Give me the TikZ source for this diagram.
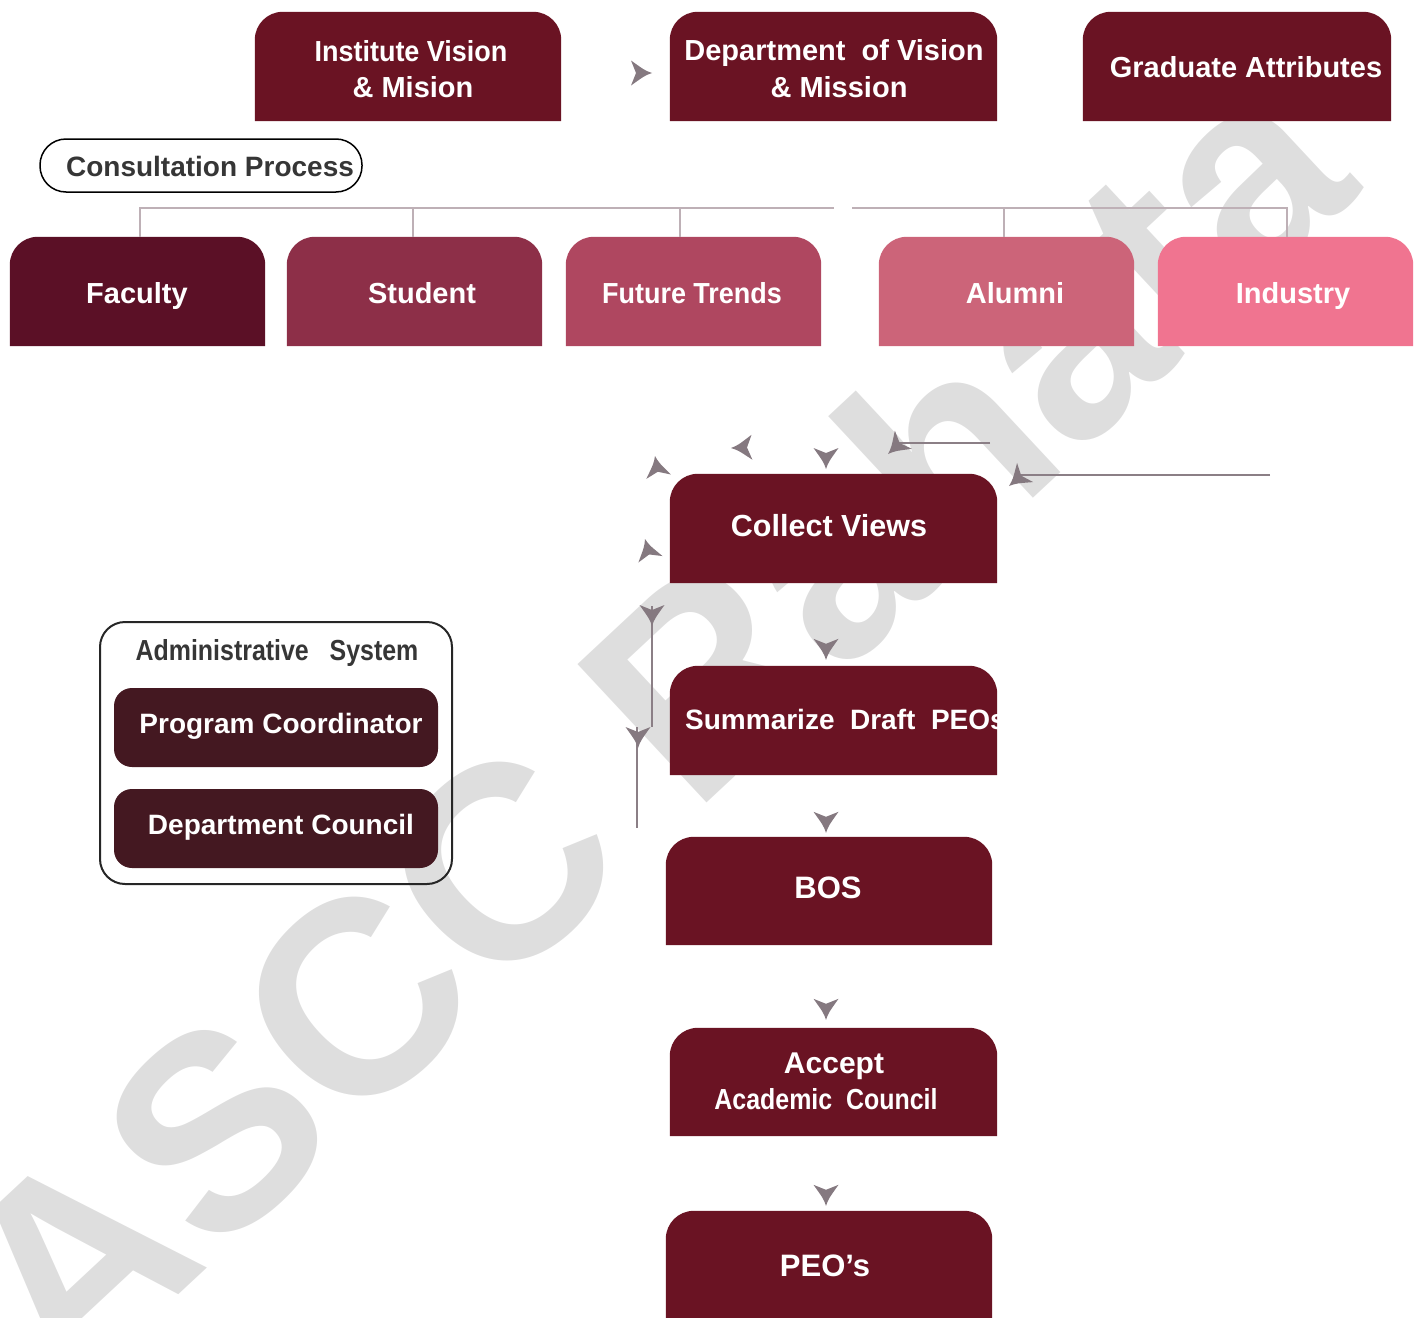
\documentclass[tikz,border=0pt]{standalone}
\usepackage{fontspec}
\setmainfont{Liberation Sans}
\newfontfamily\narrowf{Liberation Sans}[FakeStretch=0.86]
\newfontfamily\semif{Liberation Sans}[FakeStretch=0.93]
\definecolor{maroon}{HTML}{6A1323}
\definecolor{cfac}{HTML}{5B1026}
\definecolor{cstu}{HTML}{8D2F48}
\definecolor{cfut}{HTML}{AF4760}
\definecolor{calu}{HTML}{CC6479}
\definecolor{cind}{HTML}{F07490}
\definecolor{cadm}{HTML}{441821}
\definecolor{tipc}{HTML}{857980}
\definecolor{linec}{HTML}{8B7F86}
\definecolor{treec}{HTML}{BEB0B6}
\definecolor{wmc}{HTML}{DEDEDE}
\definecolor{darkt}{HTML}{363636}
\newcommand\boxat[6]{%
  \node[inner sep=0pt, minimum width={#4-#2}, minimum height={#5-#3}] (#1) at ({(#2+#4)/2},{(#3+#5)/2}) {};
  \fill[#6] (#1.south west) [rounded corners=28pt] -- (#1.north west) -- (#1.north east) [sharp corners] -- (#1.south east) -- cycle;
}
\tikzset{
  lbl/.style={text=white, inner sep=0pt, anchor=base, font=\fontsize{29}{36}\selectfont\bfseries},
  nlbl/.style={lbl, font=\narrowf\fontsize{29}{36}\selectfont\bfseries},
  slbl/.style={lbl, font=\semif\fontsize{29}{36}\selectfont\bfseries},
  tree/.style={draw=treec, line width=2.4pt},
  conn/.style={draw=linec, line width=2.2pt},
  arrtip/.pic={\fill[tipc] (0pt,0pt) .. controls (-7pt,2.5pt) .. (-21pt,12.5pt) -- (-16pt,0pt) -- (-21pt,-12.5pt) .. controls (-7pt,-2.5pt) .. (0pt,0pt) -- cycle;}
}
\begin{document}
\begin{tikzpicture}[x=1pt,y=-1pt]
\useasboundingbox (0,0) rectangle (1423,1317);
% watermark
\node[rotate=43, text=wmc, inner sep=0pt, font=\fontsize{275}{285}\selectfont\bfseries] (wm) at (649,722) {ASCC Rahata};

% top row
\boxat{inst}{255}{12}{561}{121}{maroon}
\boxat{dept}{670}{12}{997}{121}{maroon}
\boxat{grad}{1083}{12}{1391}{121}{maroon}
\node[slbl] (instT1) at (411,61) {Institute Vision};
\node[lbl] (instT2) at (413,97) {\& Mision};
\node[lbl] (deptT1) at (834,60) {Department~~of Vision};
\node[lbl] (deptT2) at (839,97) {\& Mission};
\node[lbl] (gradT) at (1246,77) {Graduate Attributes};
\pic at (652,73) {arrtip};

% consultation
\node[draw=black, line width=1.5pt, fill=white, rounded corners=26pt, minimum width=322pt, minimum height=53pt, inner sep=0pt] (cons) at (201,165.5) {};
\node[lbl, text=darkt, font=\fontsize{28}{36}\selectfont\bfseries] (consT) at (210,176) {Consultation Process};

% second row
\boxat{fac}{10}{237}{265}{346}{cfac}
\boxat{stu}{287}{237}{542}{346}{cstu}
\boxat{fut}{566}{237}{821}{346}{cfut}
\boxat{alu}{879}{237}{1134}{346}{calu}
\boxat{ind}{1158}{237}{1413}{346}{cind}
\node[lbl] (facT) at (137,303) {Faculty};
\node[lbl] (stuT) at (422,303) {Student};
\node[slbl] (futT) at (692,303) {Future Trends};
\node[lbl] (aluT) at (1015,303) {Alumni};
\node[lbl] (indT) at (1293,303) {Industry};

% tree lines
\coordinate (jl) at (834,208);
\coordinate (jr) at (852,208);
\draw[tree] ([xshift=2.5pt]fac.north) |- (jl);
\draw[tree] ([xshift=-1.5pt]stu.north) -- ([xshift=-1.5pt]stu.north |- jl);
\draw[tree] ([xshift=-13.5pt]fut.north) -- ([xshift=-13.5pt]fut.north |- jl);
\draw[tree] ([xshift=1.5pt]ind.north) |- (jr);
\draw[tree] ([xshift=-2.5pt]alu.north) -- ([xshift=-2.5pt]alu.north |- jr);

% centre column
\boxat{coll}{670}{474}{997}{583}{maroon}
\boxat{summ}{670}{666}{997}{775}{maroon}
\boxat{bos}{666}{837}{992}{945}{maroon}
\boxat{acc}{670}{1028}{997}{1136}{maroon}
\boxat{peo}{666}{1211}{992}{1330}{maroon}
\node[lbl, font=\fontsize{30.5}{36}\selectfont\bfseries] (collT) at (829,536) {Collect Views};
\begin{scope}
\clip (summ.south west) rectangle (summ.north east);
\node[lbl, anchor=base west, font=\fontsize{28}{36}\selectfont\bfseries] (summT) at (685,729) {Summarize~~Draft~~PEOs};
\end{scope}
\node[lbl, font=\fontsize{31}{36}\selectfont\bfseries] (bosT) at (828,898) {BOS};
\node[lbl, font=\fontsize{30}{36}\selectfont\bfseries] (accT1) at (834,1073) {Accept};
\node[nlbl] (accT2) at (826,1109) {Academic~~Council};
\node[lbl, font=\fontsize{31}{36}\selectfont\bfseries] (peoT) at (825,1276) {PEO’s};

% arrow tips around collect views
\pic[rotate=100] at (655,456) {arrtip};
\pic[rotate=182] at (731,448) {arrtip};
\pic[rotate=270] at (826,469) {arrtip};
\pic[rotate=105] at (645,539) {arrtip};
\coordinate (l1a) at (990,443);
\coordinate (l1b) at (897,443);
\coordinate (l2a) at (1270,475);
\coordinate (l2b) at (1020,475);
\draw[conn] (l1a) -- (l1b);
\draw[conn] (l2a) -- (l2b);
\pic[rotate=223] at (888,454) {arrtip};
\pic[rotate=220] at (1009,486) {arrtip};

% vertical lines at left
\coordinate (v1a) at (652,606);
\coordinate (v1b) at (652,727);
\coordinate (v2a) at (637,727);
\coordinate (v2b) at (637,828);
\draw[conn] (v1a) -- (v1b);
\draw[conn] (v2a) -- (v2b);
\pic[rotate=270] at (652,626) {arrtip};
\pic[rotate=270] at (638,748) {arrtip};

% down arrows
\coordinate (ax) at (826,0);
\pic[rotate=270] at ([yshift=6pt]ax |- summ.north) {arrtip};
\pic[rotate=270] at ([yshift=4pt]ax |- bos.north) {arrtip};
\pic[rotate=270] at ([yshift=8pt]ax |- acc.north) {arrtip};
\pic[rotate=270] at ([yshift=5pt]ax |- peo.north) {arrtip};

% administrative system
\node[draw=black!85, line width=2pt, rounded corners=25pt, minimum width=352pt, minimum height=262pt, inner sep=0pt] (adm) at (276,753) {};
\node[lbl, text=darkt, font=\narrowf\fontsize{29}{36}\selectfont\bfseries] (admT) at (277,660) {Administrative~~~System};
\node[fill=cadm, rounded corners=18pt, minimum width=324pt, minimum height=79pt, inner sep=0pt] (pc) at (276,727.5) {};
\node[fill=cadm, rounded corners=18pt, minimum width=324pt, minimum height=79pt, inner sep=0pt] (dc) at (276,828.5) {};
\node[lbl, font=\fontsize{28}{36}\selectfont\bfseries] (pcT) at (281,733) {Program Coordinator};
\node[lbl, font=\fontsize{28}{36}\selectfont\bfseries] (dcT) at (281,834) {Department Council};
\end{tikzpicture}
\end{document}
